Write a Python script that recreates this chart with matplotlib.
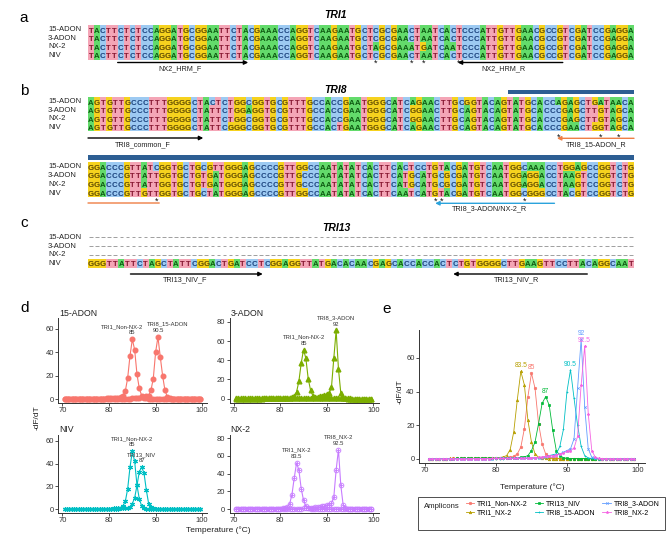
import matplotlib.pyplot as plt
import numpy as np
from matplotlib.colors import ListedColormap
from matplotlib.lines import Line2D
from matplotlib.patches import Rectangle

plt.rcParams['font.family'] = ['Liberation Sans', 'DejaVu Sans']

W, H = 669, 544

# ---------------- alignment data ----------------
strains = ['15-ADON', '3-ADON', 'NX-2', 'NIV']

tri1_seqs = [
    'TACTTCTCTCCAGGATGCGGAATTCTACGAAACCAGGTCAAGAATGCTCGCGAACTAATCACTCCCATTGTTGAACGCCGTCGATCCGAGGA',
    'TACTTCTCTCCAGGATGCGGAATTCTACGAAACCAGGTCAAGAATGCTCGCGAACTAATCACTCCCATTGTTGAACGCCGTCGATCCGAGGA',
    'TACTTCTCTCCAGGATGCGGAATTCTACGAAACCAGGTCAAGAATGCTAGCGAAATGATCAATCCCATTGTTGAACGCCGTCGATCCGAGGA',
    'TACTTCTCTCCAGGATGCGGAATTCTACGAAACCAGGTCAAGAATGCTCGCGAACTAATCACTCCCATTGTTGAACGCCGTCGATCCGAGGA',
]
tri8_top_seqs = [
    'AGTGTTGCCCTTTGGGGCTACTCTGGCGGTGCGTTTGCCACCGAATGGGCATCAGAACTTGCGGTACAGTATGCACCAGAGCTGATAACA',
    'AGTGTTGCCCTTTGGGGCTATTCTGGAGGTGCGTTTGCCACCGAATGGGCATCGGAACTTGCAGTACAGTATGCACCCGAGCTTGTAGCA',
    'AGTGTTGCCCTTTGGGGCTATTCTGGCGGTGCGTTTGCCACCGAATGGGCATCGGAACTTGCAGTACAGTATGCACCCGAGCTTGTAGCA',
    'AGTGTTGCCCTTTGGGGCTATTCGGGCGGTGCGTTTGCCACTGAATGGGCATCAGAACTTGCAGTACAGTATGCACCCGAACTGGTAGCA',
]
tri8_bot_seqs = [
    'GGACCCGTTATCGGTGCTGCGTTGGGAGCCCCGTTGGCCAATATATCACTTCACTCCTGTACGATGTCAATGGCAAACCTGGAGCCGGTCTG',
    'GGACCCGTTATTGGTGCTGTGATGGGAGCCCCGTTGCCCAATATATCACTTCATGCATGCGCGATGTCAATGGAGGACCTAAGTCCGGTCTG',
    'GGACCCGTTATTGGTGCTGTGATGGGAGCCCCGTTGCCCAATATATCACTTCATGCATGCGCGATGTCAATGGAGGACCTAAGTCCGGTCTG',
    'GGACCCGTTGTTGGTGCTGCTATGGGAGCCCCGTTGGCCAATATATCACTTCAATCATGTACGATGTCAATGGCGGGCCTACGTCCGGTCTG',
]
tri13_niv = 'GGGTTATTCTAGCTATTCGGACTGATCCTCGGAGGTTATGACACAACGAGCACCACCACTCTGTGGGGCTTGAAGTTCCTTACAGGCAAT'
tri13_seqs = ['-' * len(tri13_niv)] * 3 + [tri13_niv]

# mismatch stars (column index)
tri1_stars = [48, 54, 56, 62]
tri8_top_stars = [77, 84, 87]
tri8_bot_stars_left = [11]
tri8_bot_stars_right = [58, 59, 73]

# ---------------- melt curve data ----------------
temps = np.arange(70.5, 100, 0.5)

tri1_non_nx2 = [0.2, 0.2, 0.2, 0.2, 0.2, 0.2, 0.2, 0.3, 0.3, 0.3,
                0.3, 0.3, 0.3, 0.3, 0.4, 0.4, 0.4, 0.4, 0.5, 0.5,
                0.6, 0.7, 0.8, 1.0, 1.5,
                3, 7, 18, 37, 51, 42, 21, 9, 3, 1.2, 0.5,
                0.3,
                0.2, 0.2, 0.2, 0.2, 0.2, 0.2, 0.2, 0.2, 0.2, 0.2, 0.2,
                0.1, 0.1, 0.1, 0.1, 0.1, 0.1, 0.1, 0.1, 0.1, 0.1, 0.1]
tri1_nx2 = [0.2, 0.2, 0.2, 0.2, 0.2, 0.2, 0.3, 0.3, 0.3, 0.3,
            0.3, 0.3, 0.4, 0.4, 0.4, 0.4, 0.5, 0.5, 0.5, 0.6,
            0.8, 1.2, 2.0, 5.6, 16, 35, 52, 44, 23, 10, 3, 1.0, 0.5, 0.3,
            0.2, 0.2, 0.2, 0.2, 0.2, 0.2, 0.2, 0.2, 0.2, 0.2, 0.2, 0.2,
            0.1, 0.1, 0.1, 0.1, 0.1, 0.1, 0.1, 0.1, 0.1, 0.1, 0.1, 0.1, 0.1]
tri13_niv_curve = [0.2, 0.2, 0.2, 0.2, 0.2, 0.2, 0.2, 0.2, 0.3, 0.3,
                   0.3, 0.3, 0.3, 0.3, 0.3, 0.4, 0.4, 0.4, 0.4, 0.4,
                   0.5, 0.5, 0.6, 0.6, 0.7, 0.8, 0.9,
                   1.2, 2.0, 5.0, 10, 21, 33, 37, 32, 17, 5, 2.0, 0.8, 0.4,
                   0.2, 0.2, 0.2, 0.2, 0.2,
                   0.1, 0.1, 0.1, 0.1, 0.1, 0.1, 0.1, 0.1, 0.1, 0.1, 0.1, 0.1, 0.1, 0.1]
tri8_15adon = [0.1, 0.1, 0.1, 0.1, 0.1, 0.1, 0.1, 0.1, 0.1, 0.1,
               0.1, 0.1, 0.1, 0.2, 0.2, 0.2, 0.2, 0.2, 0.2, 0.2,
               0.2, 0.2, 0.3, 0.3, 0.3, 0.3, 0.3, 0.4, 0.4, 0.5,
               0.6, 0.8, 1.0, 1.5, 2.0, 2.5, 3.0, 7.5, 17.5, 40, 53, 36, 20, 7.5, 2.0, 0.6,
               0.3, 0.2, 0.2, 0.1, 0.1, 0.1, 0.1, 0.1, 0.1, 0.1, 0.1, 0.1, 0.1]
tri8_3adon = [0.1, 0.1, 0.1, 0.1, 0.1, 0.1, 0.1, 0.1, 0.1, 0.1,
              0.1, 0.1, 0.2, 0.2, 0.2, 0.2, 0.2, 0.2, 0.2, 0.3,
              0.3, 0.3, 0.3, 0.3, 0.3, 0.4, 0.4, 0.4, 0.4, 0.5, 0.5,
              0.6, 0.8, 1.0, 1.5, 2.0, 2.5, 3.0, 4.0, 5.0, 6.0, 12, 42, 71, 31, 6, 1.0, 0.4,
              0.2, 0.2, 0.1, 0.1, 0.1, 0.1, 0.1, 0.1, 0.1, 0.1, 0.1]
tri8_nx2 = [0.1, 0.1, 0.1, 0.1, 0.1, 0.1, 0.1, 0.1, 0.1, 0.1,
            0.1, 0.1, 0.2, 0.2, 0.2, 0.2, 0.2, 0.2, 0.3, 0.3,
            0.3, 0.3, 0.3, 0.4, 0.4, 0.4, 0.5, 0.5, 0.6, 0.7, 0.8, 1.0,
            1.2, 1.5, 1.8, 2.0, 2.5, 3.0, 3.5, 4.5, 5.0, 6.5, 13.5, 44, 67, 27, 5, 1.0, 0.4,
            0.2, 0.2, 0.1, 0.1, 0.1, 0.1, 0.1, 0.1, 0.1, 0.1]

amplicons = ['TRI1_Non-NX-2', 'TRI1_NX-2', 'TRI13_NIV', 'TRI8_15-ADON', 'TRI8_3-ADON', 'TRI8_NX-2']
curves = dict(zip(amplicons, [tri1_non_nx2, tri1_nx2, tri13_niv_curve, tri8_15adon, tri8_3adon, tri8_nx2]))
peak_tm = dict(zip(amplicons, [85, 83.5, 87, 90.5, 92, 92.5]))

panel_d = {
    '15-ADON': ['TRI1_Non-NX-2', 'TRI8_15-ADON'],
    '3-ADON': ['TRI1_Non-NX-2', 'TRI8_3-ADON'],
    'NIV': ['TRI1_Non-NX-2', 'TRI13_NIV'],
    'NX-2': ['TRI1_NX-2', 'TRI8_NX-2'],
}

# ---------------- styling ----------------
BASES = 'ACGT'
base_bg = ListedColormap(['#63DB6B', '#9DCAF2', '#F6D21E', '#F4A5B6'])
letter_col = {'A': '#0E5A12', 'C': '#183F7A', 'G': '#5C4700', 'T': '#85142F'}
X0, X1 = 88, 634

fig = plt.figure(figsize=(W / 100, H / 100), dpi=100)


def px_axes(x0, y0, x1, y1):
    return fig.add_axes([x0 / W, 1 - y1 / H, (x1 - x0) / W, (y1 - y0) / H])


def ftext(x, y, s, **kw):
    return fig.text(x / W, 1 - y / H, s, **kw)


def draw_block(seqs, rows_y, row_h, y_top, y_bot):
    n = max(len(s) for s in seqs)
    ax = px_axes(X0, y_top, X1, y_bot)
    ax.set_axis_off()
    for i, s in enumerate(seqs):
        y = rows_y[i]
        ftext(48, y, strains[i], ha='left', va='center', fontsize=5.5, color='#222')
        if set(s) == {'-'}:
            pos = np.arange(len(s))
            ax.hlines([y] * len(s), pos + 0.2, pos + 0.8, color='#8f8f8f', lw=0.6)
            continue
        codes = [[BASES.index(c) for c in s]]
        ax.imshow(codes, cmap=base_bg, vmin=-0.5, vmax=3.5, aspect='auto',
                  interpolation='nearest', extent=(0, len(s), y + row_h / 2, y - row_h / 2))
        for j, c in enumerate(s):
            ax.text(j + 0.5, y + 2.8, c, ha='center', va='baseline', fontsize=5.6,
                    fontweight='bold', color=letter_col[c])
    ax.set_xlim(0, n)
    ax.set_ylim(y_bot, y_top)
    return ax


def primer(ax, x_from, x_to, y, color='black', head=True):
    ax.annotate('', xy=(x_to, y), xytext=(x_from, y),
                arrowprops=dict(arrowstyle='-|>' if head else '-', color=color, lw=1.0,
                                mutation_scale=6, shrinkA=0, shrinkB=0),
                annotation_clip=False)


def stars(ax, cols, y):
    for c in cols:
        ax.text(c + 0.5, y, '*', ha='center', va='center', fontsize=6.5, color='#111')


def plabel(ax, x, y, s):
    ax.text(x, y, s, ha='center', va='center', fontsize=5.2, color='#222')


# panel letters and titles
for lab, (x, y) in {'a': (24, 18), 'b': (24, 91), 'c': (24, 223), 'd': (25, 308), 'e': (387, 309)}.items():
    ftext(x, y, lab, ha='center', va='center', fontsize=11)
for title, y in [('TRI1', 15), ('TRI8', 90), ('TRI13', 228)]:
    ftext(336, y, title, ha='center', va='center', fontsize=7.5, fontweight='bold', style='italic')

# a: TRI1
ax = draw_block(tri1_seqs, [29.75, 38.25, 46.75, 55.25], 8.5, 20, 75)
stars(ax, tri1_stars, 63.5)
primer(ax, 5, 27, 62.5)
primer(ax, 80, 62.3, 62.5)
plabel(ax, 15.5, 68.5, 'NX2_HRM_F')
plabel(ax, 70, 68.5, 'NX2_HRM_R')

# b: TRI8 top
ax = draw_block(tri8_top_seqs, [101.75, 110.25, 118.75, 127.25], 8.5, 85, 150)
ax.barh(92, 90 - 69.3, left=69.3, height=4.6, color='#2D5E93')
primer(ax, 0, 19, 138)
plabel(ax, 9, 144.5, 'TRI8_common_F')
primer(ax, 90, 77.3, 138.3, color='#EE7F45')
stars(ax, tri8_top_stars, 137)
plabel(ax, 83.8, 144.5, 'TRI8_15-ADON_R')

# b: TRI8 bottom
ax = draw_block(tri8_bot_seqs, [166.9, 175.6, 184.4, 193.1], 8.75, 150, 215)
ax.barh(157, 92, left=0, height=5, color='#2D5E93')
primer(ax, 0, 12, 203, color='#EE7F45', head=False)
stars(ax, tri8_bot_stars_left, 201.5)
primer(ax, 78.6, 58.5, 203.3, color='#2BA3DC')
stars(ax, tri8_bot_stars_right, 201.5)
plabel(ax, 67.6, 208.8, 'TRI8_3-ADON/NX-2_R')

# c: TRI13
ax = draw_block(tri13_seqs, [237.3, 246, 254.7, 263.4], 8.7, 230, 285)
primer(ax, 7, 28.8, 274)
primer(ax, 82.3, 60.2, 274)
plabel(ax, 16, 280, 'TRI13_NIV_F')
plabel(ax, 70.7, 280, 'TRI13_NIV_R')


# ---------------- d: melt curves per strain ----------------
def style_axes(ax):
    for side in ['top', 'right']:
        ax.spines[side].set_visible(False)
    for side in ['left', 'bottom']:
        ax.spines[side].set_color('#333333')
        ax.spines[side].set_linewidth(0.7)
    ax.tick_params(labelsize=5.5, length=2, width=0.6, pad=1.2, colors='#333333')
    ax.set_facecolor('none')


strain_col = {'15-ADON': '#F8766D', '3-ADON': '#7CAE00', 'NIV': '#00BFC4', 'NX-2': '#C77CFF'}
d_layout = {
    '15-ADON': ((58.3, 318, 207.3, 403), (-3.4, 69.2), [0, 20, 40, 60]),
    '3-ADON': ((229.5, 318, 378.5, 403), (-4.5, 84), [0, 20, 40, 60, 80]),
    'NIV': ((58.3, 435, 207.3, 513), (-3.3, 65.2), [0, 20, 40, 60]),
    'NX-2': ((229.5, 435, 378.5, 513), (-4.4, 83.5), [0, 20, 40, 60, 80]),
}
name_shift = {('15-ADON', 'TRI1_Non-NX-2'): -10, ('15-ADON', 'TRI8_15-ADON'): 10}

for strain, amps in panel_d.items():
    box, ylim, yticks = d_layout[strain]
    ax = px_axes(*box)
    col = strain_col[strain]
    for amp in amps:
        vals = curves[amp]
        if strain == '15-ADON':
            ax.plot(temps, vals, color=col, lw=0.8, marker='o', ms=3.3, mec=col)
        elif strain == '3-ADON':
            ax.plot(temps, vals, color=col, lw=0.8, marker='^', ms=3.4, mec=col)
        elif strain == 'NIV':
            ax.plot(temps, vals, color=col, lw=0.8, marker=(6, 2, 0), ms=3.6, mew=0.8, mec=col)
        else:
            ax.plot(temps, vals, color=col, lw=0.8, marker='o', ms=3.4, mfc='none', mew=0.6, mec=col)
            ax.plot(temps, vals, ls='none', marker='+', ms=3.4, mew=0.6, mec=col)
        tm = peak_tm[amp]
        top = max(vals)
        ax.annotate(str(tm).replace('.0', ''), (tm, top), xytext=(0, 4.6), textcoords='offset points',
                    ha='center', va='center', fontsize=4.2, color='#333333')
        ax.annotate(amp, (tm, top), xytext=(name_shift.get((strain, amp), 0) * 0.72, 9.2),
                    textcoords='offset points', ha='center', va='center', fontsize=4.2, color='#333333')
    ax.set_xlim(69.1, 101.1)
    ax.set_ylim(*ylim)
    ax.set_xticks([70, 80, 90, 100])
    ax.set_yticks(yticks)
    style_axes(ax)
    ftext(box[0] + 1, box[1] - 5, strain, ha='left', va='center', fontsize=6.3, color='#222')

ftext(37, 418, '-dF/dT', rotation=90, ha='center', va='center', fontsize=6, color='#222')
ftext(218, 530, 'Temperature (°C)', ha='center', va='center', fontsize=6, color='#222')

# ---------------- e: all amplicons ----------------
amp_col = dict(zip(amplicons, ['#F8766D', '#B79F00', '#00BA38', '#00BFC4', '#619CFF', '#F564E3']))
amp_mark = dict(zip(amplicons, ['o', '^', 's', '+', 'x', '*']))

ax = px_axes(419, 330, 645, 463)
handles = []
for amp in amplicons:
    vals = curves[amp]
    c = amp_col[amp]
    ax.plot(temps, vals, color=c, lw=0.6, marker=amp_mark[amp], ms=1.8, mew=0.5)
    ax.annotate(str(peak_tm[amp]).replace('.0', ''), (peak_tm[amp], max(vals)), xytext=(0, 4),
                textcoords='offset points', ha='center', va='center', fontsize=4.8, color=c)
    handles.append(Line2D([], [], color=c, lw=0.6, marker=amp_mark[amp], ms=1.8, mew=0.5))
ax.set_xlim(69.15, 101)
ax.set_ylim(-2.4, 76.6)
ax.set_xticks([70, 80, 90, 100])
ax.set_yticks([0, 20, 40, 60])
style_axes(ax)
ftext(400, 392, '-dF/dT', rotation=90, ha='center', va='center', fontsize=6, color='#222')
ftext(532, 487, 'Temperature (°C)', ha='center', va='center', fontsize=6, color='#222')

fig.patches.append(Rectangle((418 / W, 1 - 530 / H), 247 / W, 33 / H, transform=fig.transFigure,
                             fill=False, ec='#333333', lw=0.6))
ftext(424, 507, 'Amplicons', ha='left', va='center', fontsize=5.6, color='#222')
fig.legend(handles, amplicons, loc='upper left', bbox_to_anchor=(466 / W, 1 - 500 / H), ncol=3,
           frameon=False, fontsize=5, handlelength=1.2, handletextpad=0.4, columnspacing=1.0,
           labelspacing=0.35, borderpad=0, borderaxespad=0)

fig.savefig('out.png', dpi=100)
